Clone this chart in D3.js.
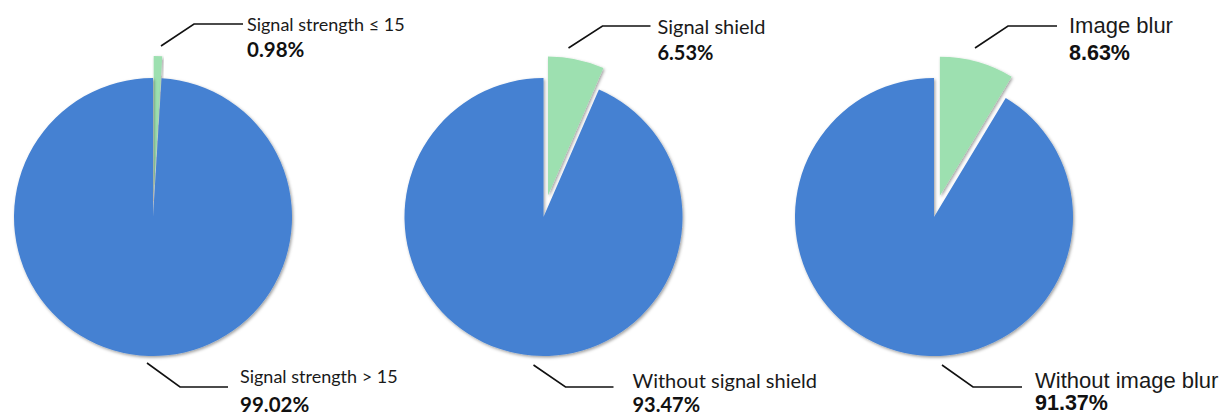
<!DOCTYPE html>
<html>
<head>
<meta charset="utf-8">
<script src="https://cdn.jsdelivr.net/npm/d3@7"></script>
<style>
  html, body { margin: 0; padding: 0; background: #ffffff; }
  svg { display: block; }
</style>
</head>
<body>
<svg id="chart" width="1220" height="415"></svg>
<script>
// Share of each condition (percent), one pie per condition
const minorLabels = ["Signal strength \u2264 15", "Signal shield", "Image blur"];
const majorLabels = ["Signal strength > 15", "Without signal shield", "Without image blur"];
const minorShares = [0.98, 6.53, 8.63];
const majorShares = [99.02, 93.47, 91.37];

const W = 1220, H = 415;
const radius = 139;
const explode = 22;
const blue = "#4581d2";
const green = "#9de0b0";

// Horizontal placement of the three pies
const x = d3.scalePoint().domain(d3.range(3)).range([153, 934]);
const cy = 217;

// Label / leader layout for each pie (offsets from the pie's centre x)
const layout = [
  { font: "Lato, 'Open Sans', sans-serif", nameSize: 18, pctSize: 20.5,
    top:    { pts: [[8, 46], [41, 24], [90, 24]], tx: 94,  nameY: 31, pctY: 57 },
    bottom: { pts: [[-6, 363], [27, 387], [75, 387]], tx: 87, nameY: 383, pctY: 412 } },
  { font: "Lato, 'Open Sans', sans-serif", nameSize: 20, pctSize: 20,
    top:    { pts: [[25, 48], [59, 26], [107, 26]], tx: 114, nameY: 34, pctY: 60 },
    bottom: { pts: [[-10, 365], [22, 387], [70, 387]], tx: 89, nameY: 388, pctY: 412 } },
  { font: "'Liberation Sans', Arial, sans-serif", nameSize: 22, pctSize: 21.5,
    top:    { pts: [[41, 48], [74, 26], [123, 26]], tx: 135, nameY: 33, pctY: 60 },
    bottom: { pts: [[8, 365], [39, 387], [88, 387]], tx: 101, nameY: 388, pctY: 410 } }
];

const svg = d3.select("#chart");

// Soft drop shadow under the slices
const defs = svg.append("defs");
const f = defs.append("filter").attr("id", "shadow")
  .attr("x", "-10%").attr("y", "-10%").attr("width", "120%").attr("height", "120%");
f.append("feDropShadow").attr("dx", 1.2).attr("dy", 1.5)
  .attr("stdDeviation", 1.8).attr("flood-color", "#000").attr("flood-opacity", 0.38);

const pie = d3.pie().sort(null).value(d => d.value);
const arc = d3.arc().innerRadius(0).outerRadius(radius);

d3.range(3).forEach(i => {
  const data = [
    { key: "minor", value: minorShares[i] },
    { key: "major", value: majorShares[i] }
  ];
  const cx = x(i);
  const g = svg.append("g").attr("transform", `translate(${cx},${cy})`);

  g.selectAll("path")
    .data(pie(data))
    .join("path")
    .attr("d", arc)
    .attr("fill", d => d.data.key === "minor" ? green : blue)
    .attr("filter", "url(#shadow)")
    .attr("transform", d => {
      if (d.data.key !== "minor") return null;
      const a = (d.startAngle + d.endAngle) / 2;
      return `translate(${Math.sin(a) * explode},${-Math.cos(a) * explode})`;
    });

  const L = layout[i];
  const line = d3.line();
  const ann = svg.append("g");

  [["top", minorLabels[i], minorShares[i]], ["bottom", majorLabels[i], majorShares[i]]]
    .forEach(([pos, name, share]) => {
      const o = L[pos];
      ann.append("path")
        .attr("d", line(o.pts.map(p => [cx + p[0], p[1]])))
        .attr("fill", "none")
        .attr("stroke", "#111")
        .attr("stroke-width", 1.6);
      ann.append("text")
        .attr("x", cx + o.tx).attr("y", o.nameY)
        .attr("font-family", L.font).attr("font-size", L.nameSize)
        .attr("fill", "#1a1a1a")
        .text(name);
      ann.append("text")
        .attr("x", cx + o.tx).attr("y", o.pctY)
        .attr("font-family", L.font).attr("font-size", L.pctSize)
        .attr("font-weight", "bold")
        .attr("fill", "#111")
        .text(d3.format(".2f")(share) + "%");
    });
});
</script>
</body>
</html>
